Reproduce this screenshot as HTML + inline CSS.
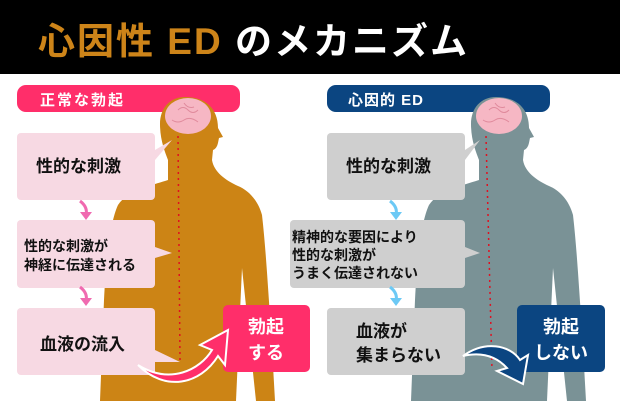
<!DOCTYPE html>
<html><head><meta charset="utf-8"><style>
html,body{margin:0;padding:0;background:#fff;}
svg{display:block;}
text{font-family:"Liberation Sans","Noto Sans CJK JP",sans-serif;font-weight:bold;}
</style></head><body>
<svg width="620" height="401" viewBox="0 0 620 401" xmlns="http://www.w3.org/2000/svg">
<defs>
<g id="body">
<path d="M185,97 C170,97 160,108 160,124 C160,140 165,152 168,160 L168,180 C150,186 128,190 118,205 C110,222 106,260 104,300 L100,401 L275,401 L271,330 C268,290 266,250 262,215 C258,200 248,190 238,186 C225,180 214,172 212,160 L213,150 C218,148 218,142 219,138 L223,137 L218,128 C218,108 205,97 185,97 Z"/>
</g>
</defs>
<rect x="0" y="0" width="620" height="74" fill="#000"/>
<text x="38" y="54" font-size="37" fill="#cd8419" letter-spacing="2">心因性 ED <tspan fill="#fff">のメカニズム</tspan></text>

<!-- left -->
<rect x="17" y="85" width="223" height="27" rx="9" fill="#ff2e6a"/>
<text x="40" y="105" font-size="15" fill="#fff" font-weight="normal" letter-spacing="2">正常な勃起</text>
<use href="#body" fill="#cc8415"/>
<path d="M242,268 L236,401 L256,401 Z" fill="#fff"/>
<ellipse cx="188" cy="116" rx="23" ry="18" fill="#f6b7c4"/>
<path d="M178,110 q5,-5 10,0 q5,5 10,0 M172,120 q6,4 12,0 q6,-4 14,2 M184,103 q4,6 10,4" stroke="#e08a9c" fill="none" stroke-width="1"/>
<line x1="178" y1="136" x2="180" y2="360" stroke="#e01020" stroke-width="1.5" stroke-dasharray="2,4"/>
<rect x="17" y="133" width="138" height="67" rx="4" fill="#f7d9e3"/>
<path d="M155,150 L172,140 L155,160 Z" fill="#f7d9e3"/>
<text x="36" y="172" font-size="17" fill="#111">性的な刺激</text>
<rect x="17" y="220" width="138" height="68" rx="4" fill="#f7d9e3"/>
<path d="M155,247 L172,253 L155,258 Z" fill="#f7d9e3"/>
<text x="24" y="251" font-size="14" fill="#111">性的な刺激が</text>
<text x="24" y="270" font-size="14" fill="#111">神経に伝達される</text>
<rect x="17" y="308" width="138" height="67" rx="4" fill="#f7d9e3"/>
<path d="M155,350 L180,362 L155,362 Z" fill="#f7d9e3"/>
<text x="40" y="350" font-size="17" fill="#111">血液の流入</text>
<path d="M80,201 q8,6 6,14" stroke="#f06ab0" stroke-width="3" fill="none"/><path d="M80,212 L86,220 L92,212 Z" fill="#f06ab0"/>
<path d="M80,287 q8,6 6,14" stroke="#f06ab0" stroke-width="3" fill="none"/><path d="M80,298 L86,306 L92,298 Z" fill="#f06ab0"/>
<rect x="223" y="305" width="87" height="67" rx="5" fill="#ff2e6a"/>
<text x="266" y="333" font-size="18" fill="#fff" text-anchor="middle" font-weight="normal">勃起</text>
<text x="266" y="359" font-size="18" fill="#fff" text-anchor="middle" font-weight="normal">する</text>
<path d="M138,365 C170,385 200,370 212,350 L200,345 L228,330 L225,365 L218,356 C200,385 165,392 138,365 Z" fill="#ff2e6a" stroke="#fff" stroke-width="2"/>

<!-- right -->
<rect x="327" y="85" width="223" height="27" rx="9" fill="#0b4581"/>
<text x="348" y="105" font-size="15" fill="#fff" font-weight="normal" letter-spacing="1">心因的 ED</text>
<use href="#body" fill="#7a9296" transform="translate(311,0)"/>
<path d="M553,268 L547,401 L567,401 Z" fill="#fff"/>
<ellipse cx="499" cy="116" rx="23" ry="18" fill="#f6b7c4"/>
<path d="M489,110 q5,-5 10,0 q5,5 10,0 M483,120 q6,4 12,0 q6,-4 14,2 M495,103 q4,6 10,4" stroke="#e08a9c" fill="none" stroke-width="1"/>
<line x1="486" y1="136" x2="492" y2="370" stroke="#e01020" stroke-width="1.5" stroke-dasharray="2,4"/>
<rect x="327" y="133" width="138" height="67" rx="4" fill="#cfcfcf"/>
<path d="M465,150 L480,140 L465,160 Z" fill="#cfcfcf"/>
<text x="346" y="172" font-size="17" fill="#111">性的な刺激</text>
<rect x="290" y="220" width="175" height="68" rx="4" fill="#cfcfcf"/>
<path d="M465,247 L480,253 L465,258 Z" fill="#cfcfcf"/>
<text x="292" y="242" font-size="14" fill="#111">精神的な要因により</text>
<text x="292" y="260" font-size="14" fill="#111">性的な刺激が</text>
<text x="292" y="278" font-size="14" fill="#111">うまく伝達されない</text>
<rect x="327" y="308" width="138" height="67" rx="4" fill="#cfcfcf"/>
<text x="356" y="337" font-size="17" fill="#111">血液が</text>
<text x="356" y="361" font-size="17" fill="#111">集まらない</text>
<path d="M390,201 q8,6 6,14" stroke="#6cc9f5" stroke-width="3" fill="none"/><path d="M390,212 L396,220 L402,212 Z" fill="#6cc9f5"/>
<path d="M390,287 q8,6 6,14" stroke="#6cc9f5" stroke-width="3" fill="none"/><path d="M390,298 L396,306 L402,298 Z" fill="#6cc9f5"/>
<rect x="517" y="305" width="88" height="67" rx="5" fill="#0b4581"/>
<text x="561" y="333" font-size="18" fill="#fff" text-anchor="middle" font-weight="normal">勃起</text>
<text x="561" y="359" font-size="18" fill="#fff" text-anchor="middle" font-weight="normal">しない</text>
<path d="M463,356 C485,340 510,345 520,360 L528,355 L523,384 L497,371 L507,368 C495,355 480,352 463,356 Z" fill="#0b4581" stroke="#fff" stroke-width="2"/>
</svg>
</body></html>
